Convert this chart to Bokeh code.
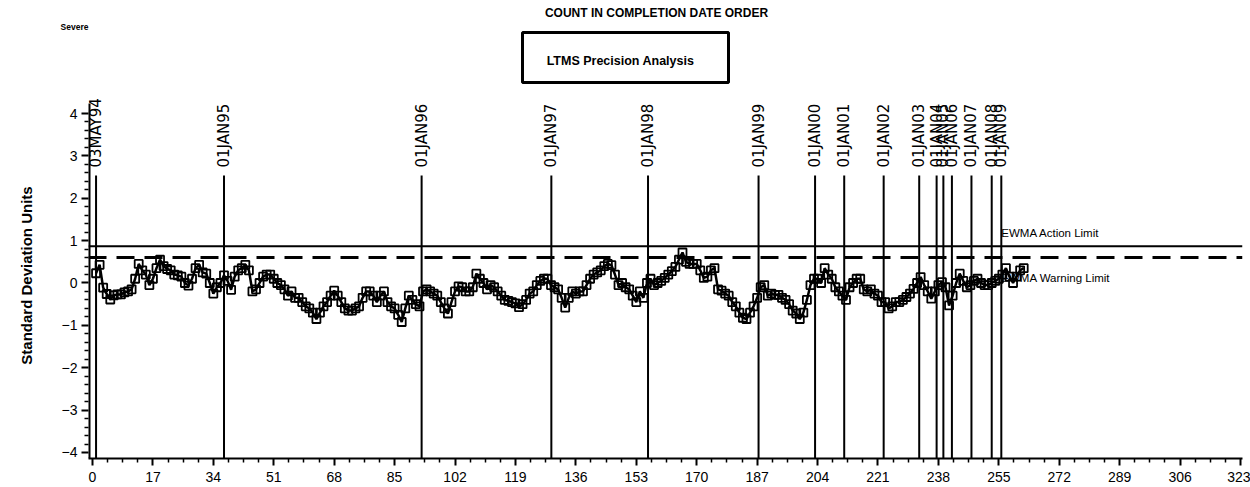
from math import pi
from bokeh.plotting import figure
from bokeh.layouts import column
from bokeh.models import (LabelSet, ColumnDataSource, FixedTicker, Span,
                          Range1d)
from bokeh.embed import file_html
from bokeh.resources import INLINE
from bokeh.core.properties import value

# ---------------- data ----------------
ewma = [
    0.23, 0.43, -0.11, -0.26, -0.39, -0.29, -0.27, -0.27, -0.22, -0.20,
    -0.15, 0.10, 0.45, 0.30, 0.20, -0.05, 0.10, 0.35, 0.55, 0.40,
    0.33, 0.30, 0.20, 0.18, 0.15, 0.00, -0.06, 0.10, 0.35, 0.43,
    0.25, 0.22, 0.00, -0.25, -0.10, 0.00, 0.18, 0.05, -0.16, 0.15,
    0.30, 0.35, 0.43, 0.30, -0.20, -0.15, 0.00, 0.15, 0.20, 0.20,
    0.10, 0.00, -0.05, -0.15, -0.30, -0.20, -0.35, -0.35, -0.45, -0.55,
    -0.60, -0.70, -0.85, -0.70, -0.55, -0.45, -0.30, -0.18, -0.30, -0.45,
    -0.60, -0.65, -0.65, -0.60, -0.55, -0.35, -0.20, -0.20, -0.30, -0.45,
    -0.30, -0.20, -0.45, -0.55, -0.60, -0.75, -0.92, -0.60, -0.30, -0.40,
    -0.50, -0.55, -0.20, -0.15, -0.20, -0.25, -0.30, -0.45, -0.60, -0.72,
    -0.45, -0.20, -0.08, -0.10, -0.20, -0.20, -0.10, 0.22, 0.10, 0.00,
    -0.15, -0.05, -0.10, -0.20, -0.30, -0.40, -0.42, -0.45, -0.48, -0.57,
    -0.50, -0.40, -0.25, -0.20, -0.05, 0.05, 0.10, 0.10, -0.05, -0.10,
    -0.15, -0.35, -0.58, -0.35, -0.20, -0.25, -0.20, -0.20, -0.05, 0.10,
    0.20, 0.25, 0.30, 0.40, 0.45, 0.42, 0.20, -0.05, 0.00, -0.10,
    -0.15, -0.30, -0.45, -0.20, -0.35, 0.00, 0.10, -0.05, 0.00, 0.05,
    0.12, 0.20, 0.28, 0.38, 0.55, 0.72, 0.50, 0.45, 0.45, 0.45,
    0.30, 0.12, 0.15, 0.30, 0.35, -0.15, -0.18, -0.25, -0.30, -0.45,
    -0.55, -0.70, -0.82, -0.85, -0.70, -0.55, -0.35, -0.10, -0.05, -0.30,
    -0.25, -0.28, -0.28, -0.35, -0.40, -0.50, -0.65, -0.72, -0.85, -0.70,
    -0.40, -0.05, 0.10, 0.10, 0.00, 0.35, 0.20, 0.10, -0.10, -0.20,
    -0.30, -0.40, -0.10, 0.00, 0.10, 0.10, -0.15, -0.20, -0.15, -0.25,
    -0.30, -0.45, -0.45, -0.60, -0.55, -0.45, -0.45, -0.40, -0.33, -0.25,
    -0.14, 0.00, 0.14, -0.05, -0.20, -0.37, -0.20, -0.05, 0.02, -0.10,
    -0.53, -0.30, 0.00, 0.22, 0.05, -0.10, -0.05, 0.05, 0.10, 0.00,
    -0.05, -0.05, 0.00, 0.05, 0.10, 0.20, 0.35, 0.15, 0.00, 0.15,
    0.30, 0.35,
]
count = list(range(1, len(ewma) + 1))

date_labels = ["03MAY94", "01JAN95", "01JAN96", "01JAN97", "01JAN98",
               "01JAN99", "01JAN00", "01JAN01", "01JAN02", "01JAN03",
               "01JAN04", "01JAN05", "01JAN06", "01JAN07", "01JAN08",
               "01JAN09"]
date_pos = [1.0, 37.0, 92.6, 129.1, 156.3, 187.4, 203.3, 211.5, 222.6,
            232.6, 237.5, 239.4, 241.8, 247.3, 253.0, 255.7]

action_limit = 0.87
warning_limit = 0.60

x_ticks = list(range(0, 324, 17))
y_ticks = [-4, -3, -2, -1, 0, 1, 2, 3, 4]

title_text = "COUNT IN COMPLETION DATE ORDER"
subtitle_text = "LTMS Precision Analysis"
corner_text = "Severe"

W = 1250
H = 487
TOP_H = 92
MAIN_H = H - TOP_H
LEFT, RIGHT = 88, 8

# ---------------- heading strip (pixel coordinates of the page) ----------------
top = figure(width=W, height=TOP_H, output_backend="svg", toolbar_location=None,
             x_range=Range1d(LEFT, W - RIGHT), y_range=Range1d(TOP_H, 0),
             min_border_left=LEFT, min_border_right=RIGHT,
             min_border_top=0, min_border_bottom=0)
top.xaxis.visible = False
top.grid.visible = False
top.outline_line_color = None
# the corner note sits left of the frame: carry it as the strip's only y tick label
top.yaxis.ticker = FixedTicker(ticks=[26], minor_ticks=[])
top.yaxis.major_label_overrides = {26: corner_text}
top.yaxis.axis_line_color = None
top.yaxis.major_tick_line_color = None
top.yaxis.minor_tick_line_color = None
top.yaxis.major_tick_out = 0
top.yaxis.major_tick_in = 0
top.yaxis.major_label_standoff = 0
top.yaxis.major_label_text_font = "Liberation Sans"
top.yaxis.major_label_text_font_style = "bold"
top.yaxis.major_label_text_font_size = "8.5px"
top.yaxis.major_label_text_color = "black"

top.text(x=[656], y=[12], text=[title_text], text_font=value("Liberation Sans"),
         text_font_style="bold", text_font_size="12px", text_align="center",
         text_baseline="middle", text_color="black")
top.quad(left=[522], right=[728], top=[32], bottom=[82], fill_alpha=0,
         line_color="black", line_width=3)
top.text(x=[620], y=[60], text=[subtitle_text], text_font=value("Liberation Sans"),
         text_font_style="bold", text_font_size="12.5px", text_align="center",
         text_baseline="middle", text_color="black")

# ---------------- main chart ----------------
X0, X1 = -1.125, 323.56
Y0, Y1 = -4.142, 4.496
AXIS_TOP = 4.236
p = figure(width=W, height=MAIN_H, output_backend="svg", toolbar_location=None,
           x_range=(X0, X1), y_range=(Y0, Y1),
           min_border_left=LEFT, min_border_right=RIGHT,
           min_border_top=0, min_border_bottom=29)
p.grid.visible = False
p.outline_line_color = None
p.background_fill_color = "white"
p.border_fill_color = "white"

x_minor = [t + 17 * j / 4 for t in x_ticks for j in (1, 2, 3) if t + 17 * j / 4 < X1]
y_minor = [round(t + 0.2 * j, 2) for t in y_ticks[:-1] for j in (1, 2, 3, 4)]
p.xaxis.ticker = FixedTicker(ticks=x_ticks, minor_ticks=x_minor)
p.yaxis.ticker = FixedTicker(ticks=y_ticks, minor_ticks=y_minor)

for ax in (p.xaxis, p.yaxis):
    ax.axis_line_width = 2
    ax.axis_line_color = "black"
    ax.major_tick_line_width = 2
    ax.major_tick_line_color = "black"
    ax.major_tick_out = 7
    ax.major_tick_in = 0
    ax.minor_tick_out = 4
    ax.minor_tick_in = 0
    ax.minor_tick_line_width = 1.5
    ax.minor_tick_line_color = "black"
    ax.major_label_text_font = "Liberation Sans"
    ax.major_label_text_font_size = "14px"
    ax.major_label_text_color = "black"
    ax.major_label_standoff = 4
p.xaxis.major_label_standoff = 6
p.yaxis.axis_line_color = None

p.yaxis.axis_label = "Standard Deviation Units"
p.yaxis.axis_label_text_font = "Liberation Sans"
p.yaxis.axis_label_text_font_style = "bold"
p.yaxis.axis_label_text_font_size = "15px"
p.yaxis.axis_label_text_color = "black"
p.yaxis.axis_label_standoff = 24

# vertical axis line only up to the top of the scale (half lies outside the clip)
p.segment(x0=[X0], y0=[Y0], x1=[X0], y1=[AXIS_TOP], line_color="black",
          line_width=4)

# limit lines
p.add_layout(Span(location=action_limit, dimension="width",
                  line_color="black", line_width=2))
p.add_layout(Span(location=warning_limit, dimension="width",
                  line_color="black", line_width=3, line_dash="18 10"))

# date reference lines
n = len(date_pos)
p.segment(x0=date_pos, y0=[Y0] * n, x1=date_pos, y1=[2.537] * n,
          line_color="black", line_width=2)
date_src = ColumnDataSource(dict(x=date_pos, y=[2.726] * n, text=date_labels))
p.add_layout(LabelSet(x="x", y="y", text="text", source=date_src,
                      angle=pi / 2, text_align="left", text_baseline="middle",
                      text_font=value("DejaVu Sans"), text_font_size="15px",
                      text_color="black"))

# limit labels (drawn under the data)
p.text(x=[date_pos[-1]], y=[action_limit + 0.307], text=["EWMA Action Limit"],
       text_font=value("Liberation Sans"), text_font_size="11.5px",
       text_baseline="middle", text_align="left", text_color="black")
p.text(x=[date_pos[-1]], y=[warning_limit - 0.472], text=["EWMA Warning Limit"],
       text_font=value("Liberation Sans"), text_font_size="11.5px",
       text_baseline="middle", text_align="left", text_color="black")

# data
p.line(count, ewma, line_color="black", line_width=2.5)
p.scatter(count, ewma, marker="square", size=8, fill_alpha=0,
          line_color="black", line_width=1.8)

layout = column(top, p, spacing=0)
open("out.html", "w").write(file_html(layout, INLINE))
